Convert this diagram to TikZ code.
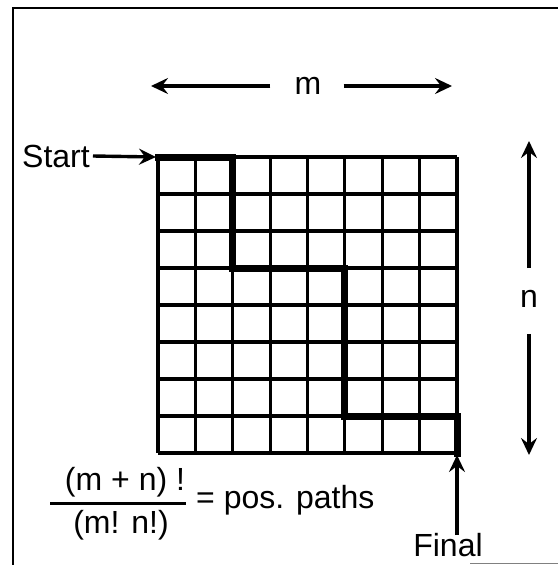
\documentclass[tikz,border=0pt]{standalone}
\usepackage{fontspec}
\setmainfont{Liberation Sans}
\usetikzlibrary{positioning,arrows.meta}

\begin{document}
\begin{tikzpicture}[
  x=1pt, y=-1pt,
  font=\fontsize{32}{36}\selectfont,
  frame/.style={line width=2.6pt, draw=black},
  cell/.style={line width=3.2pt, draw=black},
  route/.style={line width=7pt, draw=black, line cap=rect},
  arr/.style={-{Stealth[length=17pt, width=16pt, inset=6pt]}, line width=3.4pt},
  lbl/.style={inner sep=0pt}
]
\useasboundingbox (0,0) rectangle (558,565);

% outer frame
\draw[frame] (13,565) -- (13,8) -- (558,8);
\draw[gray, line width=1pt] (470,563) -- (558,563);

% grid 8 x 8
\coordinate (nw) at (158,157);
\coordinate (se) at (457,453);
\foreach \i in {0,...,8} {
  \draw[cell] (158+\i*37.375,157) -- (158+\i*37.375,453);
  \draw[cell] (158,157+\i*37) -- (457,157+\i*37);
}

% one possible path
\draw[route] (nw) -- (232.75,157) -- (232.75,268) -- (344.875,268)
  -- (344.875,416) -- (457,416) -- (se);

% labels
\node[lbl] (start) at (56,156) {Start};
\node[lbl] (final) at (448,545) {Final};
\node[lbl] (m) at (308,86) {m};
\node[lbl] (n) at (529,299) {n};
\coordinate (mL) at (151,86);
\coordinate (mR) at (452,86);
\coordinate (nT) at (529,141);
\coordinate (nB) at (529,455);

\draw[arr] ([xshift=3pt]start.east) -- ([xshift=-2pt]nw);
\draw[arr] ([yshift=-2pt]final.north -| se) -- ([yshift=-2pt]se);
\draw[arr] ([xshift=-24pt]m.west) -- (mL);
\draw[arr] ([xshift=22pt]m.east) -- (mR);
\draw[arr] ([yshift=22pt]n.north) -- (nT);
\draw[arr] ([yshift=-26pt]n.south) -- (nB);

% formula
\node[lbl] (num) at (125,482) {(m + n) !};
\node[lbl] (den) at (121,525) {(m! n!)};
\draw[line width=3pt] (50,503) coordinate (barL) -- (186,503) coordinate (barR);
\node[lbl, anchor=west] (eq) at (196,500) {= pos. paths};
\end{tikzpicture}
\end{document}
